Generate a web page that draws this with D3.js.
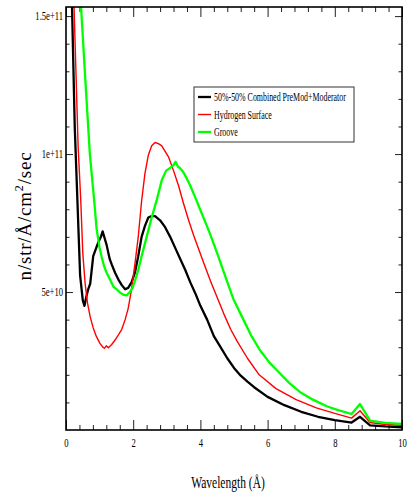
<!DOCTYPE html>
<html>
<head>
<meta charset="utf-8">
<script src="https://cdn.jsdelivr.net/npm/d3@7"></script>
<style>
  body { margin: 0; background: #fff; }
  text { font-family: "Liberation Serif", "DejaVu Serif", serif; fill: #000; }
</style>
</head>
<body>
<div id="chart"></div>
<script>
// wavelength (Angstrom) and flux (units of 1e10 n/str/A/cm2/sec)
var combinedWl = [0.15, 0.18, 0.26, 0.34, 0.42, 0.50, 0.55, 0.60, 0.66, 0.72, 0.81, 0.90, 0.96, 1.04, 1.09, 1.15, 1.21, 1.30, 1.36, 1.46, 1.56, 1.66, 1.76, 1.85, 1.95, 2.05, 2.15, 2.25, 2.35, 2.45, 2.55, 2.65, 2.80, 2.95, 3.10, 3.25, 3.40, 3.55, 3.70, 3.85, 4.00, 4.20, 4.40, 4.60, 4.80, 5.00, 5.20, 5.40, 5.60, 6.00, 6.50, 7.00, 7.50, 8.00, 8.50, 8.75, 9.05, 9.50, 10.0];
var combinedFlux = [16.5, 15.3, 11.0, 8.3, 5.6, 4.7, 4.5, 4.8, 5.1, 5.3, 6.3, 6.6, 6.8, 7.0, 7.2, 6.95, 6.7, 6.2, 6.0, 5.7, 5.45, 5.25, 5.1, 5.15, 5.35, 5.7, 6.3, 7.0, 7.4, 7.7, 7.75, 7.75, 7.6, 7.35, 7.0, 6.6, 6.2, 5.8, 5.35, 4.95, 4.5, 4.0, 3.4, 3.0, 2.6, 2.25, 1.97, 1.75, 1.55, 1.2, 0.9, 0.66, 0.48, 0.36, 0.27, 0.48, 0.17, 0.13, 0.1];

var hydrogenWl = [0.20, 0.24, 0.30, 0.36, 0.44, 0.50, 0.57, 0.64, 0.72, 0.81, 0.90, 1.01, 1.10, 1.14, 1.20, 1.26, 1.36, 1.46, 1.56, 1.66, 1.76, 1.85, 1.95, 2.05, 2.15, 2.25, 2.35, 2.45, 2.55, 2.65, 2.75, 2.85, 2.95, 3.05, 3.20, 3.35, 3.50, 3.65, 3.80, 3.95, 4.10, 4.30, 4.50, 4.70, 4.90, 5.10, 5.40, 5.75, 6.25, 6.85, 7.45, 8.00, 8.50, 8.75, 9.05, 9.50, 10.0];
var hydrogenFlux = [17.0, 15.3, 12.8, 10.3, 8.3, 6.4, 5.3, 4.6, 4.1, 3.7, 3.4, 3.14, 3.0, 2.96, 3.05, 2.98, 3.1, 3.26, 3.45, 3.65, 4.0, 4.4, 5.1, 6.0, 7.0, 8.3, 9.3, 9.96, 10.3, 10.42, 10.38, 10.3, 10.1, 9.9, 9.4, 8.85, 8.2, 7.6, 7.05, 6.55, 6.05, 5.4, 4.8, 4.2, 3.65, 3.2, 2.6, 2.0, 1.5, 1.1, 0.8, 0.6, 0.43, 0.7, 0.27, 0.2, 0.17];

var grooveWl = [0.40, 0.45, 0.57, 0.71, 0.84, 0.91, 1.00, 1.06, 1.13, 1.21, 1.31, 1.41, 1.51, 1.61, 1.71, 1.81, 1.90, 1.98, 2.05, 2.15, 2.25, 2.40, 2.55, 2.70, 2.85, 2.98, 3.10, 3.20, 3.26, 3.33, 3.40, 3.49, 3.60, 3.69, 3.84, 3.99, 4.14, 4.29, 4.41, 4.53, 4.66, 4.78, 4.98, 5.28, 5.50, 5.77, 6.05, 6.37, 6.65, 6.96, 7.35, 7.76, 8.10, 8.50, 8.75, 9.05, 9.50, 10.0];
var grooveFlux = [17.0, 15.3, 12.8, 10.0, 8.3, 7.3, 6.6, 6.28, 5.95, 5.7, 5.45, 5.2, 5.1, 4.98, 4.9, 4.88, 5.0, 5.15, 5.4, 5.8, 6.3, 7.0, 7.7, 8.33, 9.05, 9.4, 9.5, 9.6, 9.72, 9.55, 9.48, 9.35, 9.1, 8.88, 8.45, 8.0, 7.55, 7.1, 6.7, 6.3, 5.85, 5.43, 4.75, 4.0, 3.45, 2.9, 2.45, 2.05, 1.7, 1.38, 1.1, 0.86, 0.72, 0.58, 0.94, 0.34, 0.26, 0.22];

var seriesNames = ["50%-50% Combined PreMod+Moderator", "Hydrogen Surface", "Groove"];
var seriesColors = ["#000000", "#ff0000", "#00ff00"];
var xTickValues = [0, 2, 4, 6, 8, 10];
var yTickValues = [5e10, 1e11, 1.5e11];
var yTickLabels = ["5e+10", "1e+11", "1.5e+11"];

var series = [
  {name: seriesNames[0], color: seriesColors[0], width: 2.3, wl: combinedWl, flux: combinedFlux},
  {name: seriesNames[1], color: seriesColors[1], width: 1.4, wl: hydrogenWl, flux: hydrogenFlux},
  {name: seriesNames[2], color: seriesColors[2], width: 2.3, wl: grooveWl, flux: grooveFlux}
];

var W = 408, H = 496;
var margin = {top: 7, right: 6, bottom: 66, left: 66},
    width = W - margin.left - margin.right,
    height = H - margin.top - margin.bottom;
var squeeze = 0.72; // text in the picture is narrow

var svg = d3.select("#chart").append("svg")
  .attr("width", W).attr("height", H);

var g = svg.append("g")
  .attr("transform", "translate(" + margin.left + "," + margin.top + ")");

var x = d3.scaleLinear().domain([0, 10]).range([0, width]);
var y = d3.scaleLinear().domain([0, 1.533e11]).range([height, 0]);

svg.append("defs").append("clipPath").attr("id", "plotclip")
  .append("rect").attr("width", width).attr("height", height);

// minor ticks
var xMinor = d3.range(0, 10.001, 0.4).filter(function(v){ return Math.abs(v / 2 - Math.round(v / 2)) > 0.01; });
var yMinor = d3.range(1e10, 1.53e11, 1e10).filter(function(v){ return Math.round(v / 1e10) % 5 != 0; });

function plain(sel) {
  sel.select(".domain").remove();
  sel.selectAll("line").attr("stroke", "#222");
}

g.append("g").attr("transform", "translate(0," + height + ")")
  .call(d3.axisBottom(x).tickValues(xMinor).tickSizeInner(-5).tickSizeOuter(0).tickFormat(""))
  .call(plain);
g.append("g").attr("transform", "translate(0," + height + ")")
  .call(d3.axisBottom(x).tickValues(xTickValues).tickSizeInner(-10).tickSizeOuter(0).tickPadding(8.5).tickFormat(d3.format("d")))
  .call(plain)
  .selectAll("text").attr("font-size", 12).attr("transform", "scale(" + squeeze + ",1)");

g.append("g")
  .call(d3.axisTop(x).tickValues(xMinor).tickSizeInner(-5).tickSizeOuter(0).tickFormat(""))
  .call(plain);
g.append("g")
  .call(d3.axisTop(x).tickValues(xTickValues).tickSizeInner(-10).tickSizeOuter(0).tickFormat(""))
  .call(plain);

g.append("g")
  .call(d3.axisLeft(y).tickValues(yMinor).tickSizeInner(-3.5).tickSizeOuter(0).tickFormat(""))
  .call(plain);
g.append("g")
  .call(d3.axisLeft(y).tickValues(yTickValues).tickSizeInner(-7).tickSizeOuter(0).tickPadding(4)
    .tickFormat(function(d, i){ return yTickLabels[i]; }))
  .call(plain)
  .selectAll("text").attr("font-size", 12).attr("transform", "scale(" + squeeze + ",1)");

g.append("g").attr("transform", "translate(" + width + ",0)")
  .call(d3.axisRight(y).tickValues(yMinor).tickSizeInner(-3.5).tickSizeOuter(0).tickFormat(""))
  .call(plain);
g.append("g").attr("transform", "translate(" + width + ",0)")
  .call(d3.axisRight(y).tickValues(yTickValues).tickSizeInner(-7).tickSizeOuter(0).tickFormat(""))
  .call(plain);

// curves
var line = d3.line()
  .x(function(d){ return x(d[0]); })
  .y(function(d){ return y(d[1] * 1e10); });

var lines = g.append("g").attr("clip-path", "url(#plotclip)");
series.forEach(function(s) {
  lines.append("path")
    .datum(d3.zip(s.wl, s.flux))
    .attr("fill", "none")
    .attr("stroke", s.color)
    .attr("stroke-width", s.width)
    .attr("stroke-linejoin", "round")
    .attr("d", line);
});

// frame
g.append("rect")
  .attr("width", width).attr("height", height)
  .attr("fill", "none").attr("stroke", "#000").attr("stroke-width", 1.6);

// axis titles
svg.append("text")
  .attr("transform", "translate(228,488) scale(" + squeeze + ",1)")
  .attr("text-anchor", "middle")
  .attr("font-size", 16)
  .text("Wavelength (Å)");

var ylab = svg.append("text")
  .attr("transform", "translate(31,216) rotate(-90)")
  .attr("text-anchor", "middle")
  .attr("font-size", 19)
  .attr("letter-spacing", 0.8);
ylab.append("tspan").text("n/str/Å/cm");
ylab.append("tspan").attr("dy", -8).attr("font-size", 12).text("2");
ylab.append("tspan").attr("dy", 8).text("/sec");

// legend
var legend = svg.append("g").attr("transform", "translate(194,87)");
legend.append("rect")
  .attr("width", 160).attr("height", 55)
  .attr("fill", "#fff").attr("stroke", "#333").attr("stroke-width", 1);

var rows = legend.selectAll(".row").data(series).enter().append("g")
  .attr("class", "row")
  .attr("transform", function(d, i){ return "translate(0," + [10, 27.5, 45][i] + ")"; });
rows.append("line")
  .attr("x1", 4).attr("x2", 17)
  .attr("stroke", function(d){ return d.color; })
  .attr("stroke-width", function(d){ return d.width; });
rows.append("text")
  .attr("transform", "translate(20,4) scale(0.66,1)")
  .attr("font-size", 12)
  .text(function(d){ return d.name; });
</script>
</body>
</html>
